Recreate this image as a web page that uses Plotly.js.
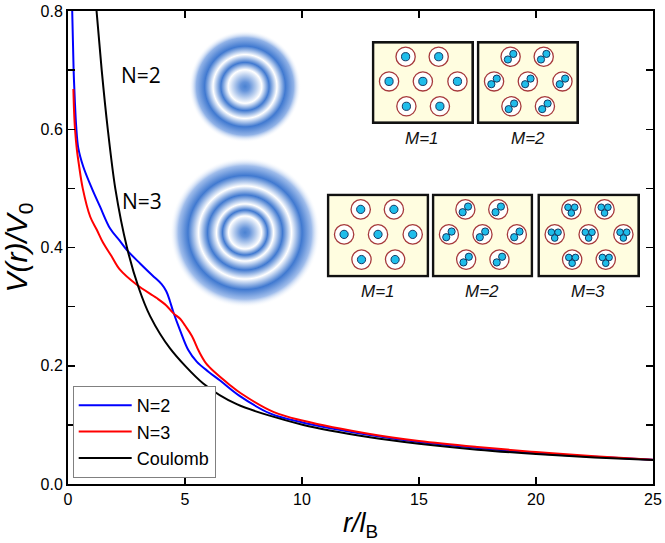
<!DOCTYPE html>
<html>
<head>
<meta charset="utf-8">
<script src="https://cdn.plot.ly/plotly-3.0.1.min.js"></script>
<style>html,body{margin:0;padding:0;background:#fff;}#chart{width:665px;height:543px;}</style>
</head>
<body>
<div id="chart"></div>
<script>
// ---- data ----
const rN2 = [0.18, 0.21, 0.24, 0.29, 0.35, 0.44, 0.65, 1.02, 1.37, 1.8, 2.2, 2.51, 3.08, 3.6, 4.0, 4.2, 4.35, 4.50, 4.79, 5.14, 5.5, 6.0, 6.5, 7.3, 8.63, 10.06, 12.9, 15, 17.5, 20, 22.5, 25];
const vN2 = [0.8, 0.75, 0.7, 0.65, 0.605, 0.568, 0.537, 0.5, 0.469, 0.432, 0.412, 0.396, 0.373, 0.353, 0.338, 0.326, 0.31, 0.291, 0.260, 0.2266, 0.207, 0.19, 0.175, 0.150, 0.1195, 0.1037, 0.0829, 0.071, 0.061, 0.052, 0.046, 0.041];

const rN3 = [0.23, 0.26, 0.30, 0.38, 0.46, 0.63, 0.95, 1.23, 1.5, 1.85, 2.22, 2.94, 3.79, 4.2, 4.50, 4.8, 5.0, 5.3, 5.6, 5.9, 6.3, 6.9, 7.4, 8.8, 10.06, 12.9, 15, 17.5, 20, 22.5, 25];
const vN3 = [0.668, 0.63, 0.6, 0.565, 0.542, 0.5, 0.452, 0.43, 0.408, 0.386, 0.3625, 0.337, 0.3145, 0.302, 0.289, 0.279, 0.268, 0.25, 0.224, 0.204, 0.188, 0.168, 0.153, 0.1215, 0.107, 0.0846, 0.0727, 0.0625, 0.054, 0.047, 0.041];

const rCoul = [1.22, 1.44, 1.70, 2.02, 2.52, 3.02, 3.51, 4.36, 5.78, 7.21, 10.06, 12.9, 15, 17.5, 20, 22.5, 25];
const vCoul = [0.8, 0.7, 0.6, 0.5, 0.4, 0.332, 0.284, 0.2295, 0.170, 0.135, 0.0998, 0.079, 0.068, 0.058, 0.0507, 0.045, 0.0406];

const seriesNames = ["N=2", "N=3", "Coulomb"];
const insetLabels = ["N=2", "N=3"];
const boxLabels = ["M=1", "M=2", "M=1", "M=2", "M=3"];

// ---- layout helpers (pixel -> paper) ----
const W = 665, H = 543, L = 68, R = 12, T = 11, B = 59;
const PW = W - L - R, PH = H - T - B;
const px = p => (p - L) / PW;
const py = p => (H - B - p) / PH;

function svgURI(s) { return 'data:image/svg+xml;charset=utf-8,' + encodeURIComponent(s); }

function ringSVG(stops) {
  let st = stops.map(s => `<stop offset="${s[0]}" stop-color="${s[1]}" stop-opacity="${s[2] === undefined ? 1 : s[2]}"/>`).join('');
  return svgURI(`<svg xmlns="http://www.w3.org/2000/svg" width="200" height="200" viewBox="0 0 200 200"><defs><radialGradient id="g" cx="100" cy="100" r="100" gradientUnits="userSpaceOnUse">${st}</radialGradient></defs><circle cx="100" cy="100" r="100" fill="url(#g)"/></svg>`);
}

const blue = '#4079d0';
const ring2 = ringSVG([[0, '#4a82d2'], [0.08, '#6493da'], [0.30, '#ffffff'], [0.43, blue], [0.57, '#ffffff'], [0.72, blue], [0.87, '#92b3e7'], [1, '#ffffff', 0]]);
const ring3 = ringSVG([[0, '#4a82d2'], [0.06, '#6493da'], [0.22, '#ffffff'], [0.30, blue], [0.38, '#ffffff'], [0.50, blue], [0.62, '#ffffff'], [0.76, blue], [0.89, '#a0bdeb'], [1, '#ffffff', 0]]);

const sites = [[33.8, 15.7], [66.8, 15.7], [17.3, 40.4], [51, 40.4], [85.5, 40.4], [34.6, 65.3], [68, 65.3]];
function boxSVG(m) {
  let s = `<svg xmlns="http://www.w3.org/2000/svg" width="102" height="83" viewBox="0 0 102 83"><rect x="1.3" y="1.3" width="99.4" height="80.4" fill="#fffde0" stroke="#111" stroke-width="2.6"/>`;
  let offs;
  if (m === 1) offs = [[0, 0, 4.1]];
  else if (m === 2) offs = [[-2.7, 2.8, 3.6], [2.7, -2.8, 3.6]];
  else offs = [[-3.3, -2.1, 3.3], [3.3, -2.1, 3.3], [0, 3.6, 3.3]];
  sites.forEach(c => {
    s += `<circle cx="${c[0]}" cy="${c[1]}" r="9.6" fill="#ffffff" stroke="#a63a3c" stroke-width="1.3"/>`;
    offs.forEach(o => {
      s += `<circle cx="${c[0] + o[0]}" cy="${c[1] + o[1]}" r="${o[2]}" fill="#1fbdea" stroke="#0b2a55" stroke-width="0.9"/>`;
    });
  });
  s += '</svg>';
  return svgURI(s);
}

function img(src, x0, y0, w, h) {
  return { source: src, xref: 'paper', yref: 'paper', x: px(x0), y: py(y0), sizex: w / PW, sizey: h / PH,
           xanchor: 'left', yanchor: 'top', sizing: 'stretch', layer: 'below' };
}

const boxes = [
  [371.7, 41, 102.3, 83, 1], [476.7, 41, 102.3, 83, 2],
  [326.7, 193.5, 102.6, 84, 1], [431.7, 193.5, 101.6, 84, 2], [537.3, 193.5, 102.7, 84, 3]
];
const boxLabelPos = [[422, 138], [528, 138], [378, 291], [482, 291], [588, 291]];

const images = [
  img(ring2, 189, 30.5, 112, 112),
  img(ring3, 170, 157.5, 150, 150)
].concat(boxes.map(b => img(boxSVG(b[4]), b[0], b[1], b[2], b[3])));

const annotations = [
  { text: insetLabels[0], x: px(141), y: py(75), font: { family: 'Open Sans, sans-serif', size: 21, color: '#000' } },
  { text: insetLabels[1], x: px(142), y: py(201), font: { family: 'Open Sans, sans-serif', size: 21, color: '#000' } }
].concat(boxLabels.map((t, i) => ({
  text: '<i>' + t + '</i>', x: px(boxLabelPos[i][0]), y: py(boxLabelPos[i][1]),
  font: { family: 'Liberation Sans, Arial, sans-serif', size: 17, color: '#111' }
}))).map(a => Object.assign({ xref: 'paper', yref: 'paper', showarrow: false, xanchor: 'center', yanchor: 'middle' }, a));

const traces = [
  { x: rN2, y: vN2, name: seriesNames[0], mode: 'lines', line: { color: '#0000ff', width: 2, shape: 'spline', smoothing: 1 } },
  { x: rN3, y: vN3, name: seriesNames[1], mode: 'lines', line: { color: '#ff0000', width: 2, shape: 'spline', smoothing: 1 } },
  { x: rCoul, y: vCoul, name: seriesNames[2], mode: 'lines', line: { color: '#000000', width: 2, shape: 'spline', smoothing: 0.8 } }
];

const axisFont = { family: 'Liberation Sans, Arial, sans-serif', size: 16, color: '#000' };

const layout = {
  width: W, height: H,
  margin: { l: L, r: R, t: T, b: B },
  paper_bgcolor: '#fff', plot_bgcolor: 'rgba(0,0,0,0)',
  font: axisFont,
  showlegend: true,
  legend: {
    x: px(72.7), y: py(478), xanchor: 'left', yanchor: 'bottom',
    bgcolor: 'rgba(255,255,255,1)', bordercolor: '#808080', borderwidth: 1,
    font: { family: 'Liberation Sans, Arial, sans-serif', size: 18, color: '#000' },
    tracegroupgap: 0, itemwidth: 53
  },
  xaxis: {
    range: [0, 25], dtick: 5, tick0: 0, ticks: 'inside', ticklen: 7, tickwidth: 1.5, tickcolor: '#000',
    showline: true, linecolor: '#000', linewidth: 2, mirror: 'ticks', showgrid: false, zeroline: false,
    tickfont: axisFont, automargin: false,
    title: { text: '<i>r/l</i><sub>B</sub>', font: { family: 'Liberation Sans, Arial, sans-serif', size: 27, color: '#000' }, standoff: 6 }
  },
  yaxis: {
    range: [0, 0.8], dtick: 0.2, tick0: 0, tickformat: '.1f', ticks: 'inside', ticklen: 7, tickwidth: 1.5, tickcolor: '#000',
    minor: { dtick: 0.1, ticks: 'inside', ticklen: 7, tickwidth: 1.5, tickcolor: '#000', showgrid: false },
    showline: true, linecolor: '#000', linewidth: 2, mirror: 'ticks', showgrid: false, zeroline: false,
    tickfont: axisFont, automargin: false,
    title: { text: '<i>V(r)/V</i><sub>0</sub>', font: { family: 'Liberation Sans, Arial, sans-serif', size: 30, color: '#000' }, standoff: 4 }
  },
  images: images,
  annotations: annotations
};

Plotly.newPlot('chart', traces, layout, { displayModeBar: false, staticPlot: true });
</script>
</body>
</html>
